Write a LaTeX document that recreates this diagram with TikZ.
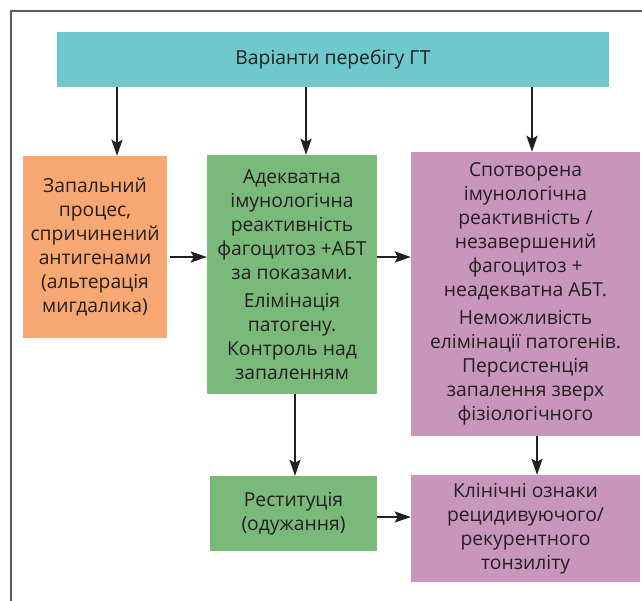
\documentclass[tikz,border=0pt]{standalone}
\usepackage{fontspec}
\setmainfont{Open Sans}
\usepackage{xcolor}
\usepackage{tikz}
\usetikzlibrary{arrows.meta, positioning}
\definecolor{boxcyan}{HTML}{6FC9CC}
\definecolor{boxorange}{HTML}{F7A872}
\definecolor{boxgreen}{HTML}{79BA7A}
\definecolor{boxpurple}{HTML}{C896BD}
\definecolor{txt}{HTML}{231F20}
\tikzset{
	box/.style={inner sep=0pt, align=center, text=txt, font=\fontsize{19.3}{24}\selectfont},
	arr/.style={-{Stealth[length=16pt, width=11pt, inset=3pt]}, line width=2pt, draw=txt}
}

\begin{document}
\begin{tikzpicture}[x=1pt, y=-1pt]
				\useasboundingbox (0,0) rectangle (642,601);
				% Paths, nodes and wires:
				\draw[line width=1.5pt, draw=black!65] (11,601) -- (11,11) -- (642,11);
				\node[box, fill=boxcyan, minimum width=552pt, minimum height=55pt](N1) at (333,59.5){Варіанти перебігу ГТ};
				\node[box, fill=boxorange, minimum width=144pt, minimum height=182pt](N2) at (95,247){Запальний\\ процес,\\ спричинений\\ антигенами\\ (альтерація\\ мигдалика)};
				\node[box, fill=boxgreen, minimum width=170pt, minimum height=239pt](N3) at (292,274.5){Адекватна\\ імунологічна\\ реактивність\\ фагоцитоз +АБТ\\ за показами.\\[4pt] Елімінація\\ патогену.\\ Контроль над\\ запаленням};
				\node[box, fill=boxpurple, minimum width=229pt, minimum height=284pt](N4) at (525.5,294){Спотворена\\ імунологічна\\ реактивність /\\ незавершений\\ фагоцитоз +\\ неадекватна АБТ.\\[4pt] Неможливість\\ елімінації патогенів.\\ Персистенція\\ запалення зверх\\ фізіологічного};
				\node[box, fill=boxgreen, minimum width=167pt, minimum height=75pt](N5) at (293.5,513.5){Реституція\\ (одужання)};
				\node[box, fill=boxpurple, minimum width=229pt, minimum height=107pt](N6) at (525.5,528.5){Клінічні ознаки\\ рецидивуючого/\\ рекурентного\\ тонзиліту};
				\draw[arr] ([xshift=22pt]N2.north |- N1.south) -- ([xshift=22pt]N2.north);
				\draw[arr] ([xshift=14pt]N3.north |- N1.south) -- ([xshift=14pt]N3.north);
				\draw[arr] ([xshift=6.5pt]N4.north |- N1.south) -- ([xshift=6.5pt]N4.north);
				\draw[arr] ([xshift=3pt, yshift=-10pt]N2.east) -- ([yshift=-10pt]N2.east -| N3.west);
				\draw[arr] ([yshift=17.5pt]N3.east) -- ([yshift=17.5pt]N3.east -| N4.west);
				\draw[arr] ([xshift=3pt]N3.south) -- ([xshift=1.5pt]N5.north);
				\draw[arr] ([xshift=11.5pt]N4.south) -- ([xshift=11.5pt]N6.north);
				\draw[arr] ([yshift=-3.5pt]N5.east) -- ([yshift=-3.5pt]N5.east -| N6.west);
			\end{tikzpicture}
\end{document}
